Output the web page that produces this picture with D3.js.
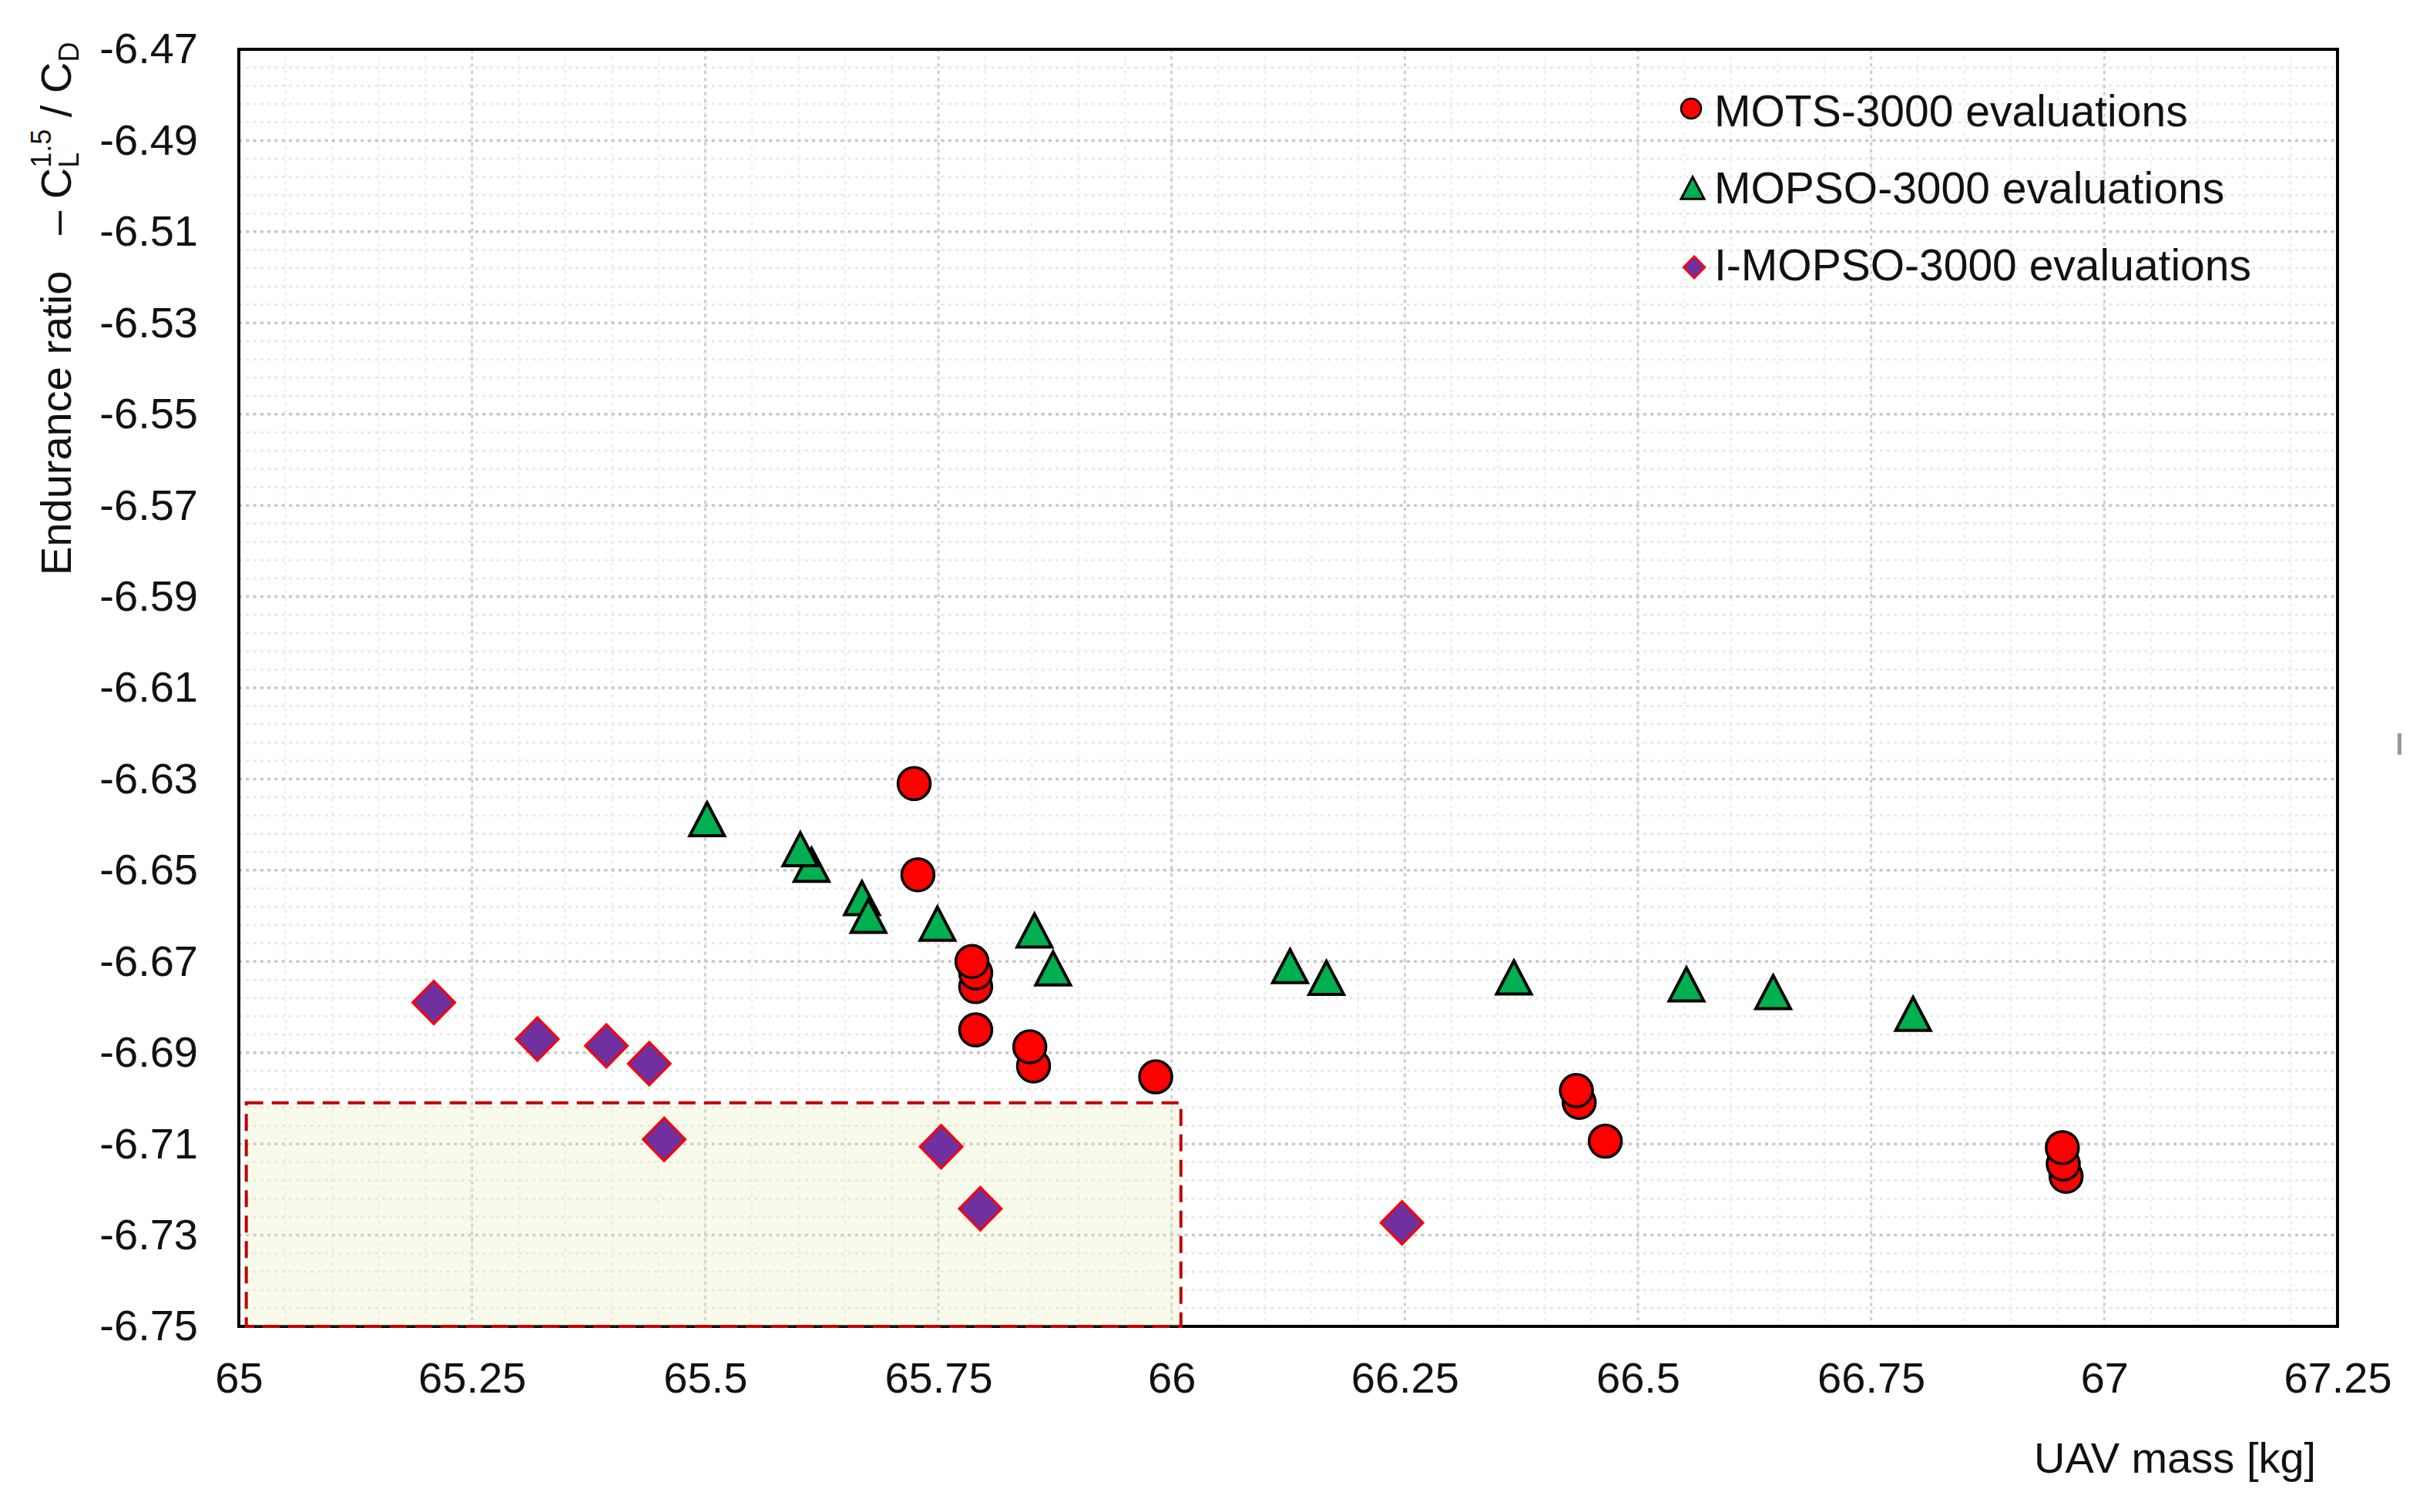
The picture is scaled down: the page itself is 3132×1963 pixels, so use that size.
<!DOCTYPE html>
<html>
<head>
<meta charset="utf-8">
<script src="https://cdn.jsdelivr.net/npm/d3@7"></script>
<style>
  body { margin: 0; background: #fff; }
  svg text { font-family: "Liberation Sans", Arial, sans-serif; fill: #111; }
</style>
</head>
<body>
<div id="scatter"></div>
<script>
// Data
// ==============================
// MOTS (circles) - listed so that overlapping points stack like the original
var motsMass      = [65.724, 65.728, 65.790, 65.790, 65.786, 65.790, 65.852, 65.848, 65.983, 66.437, 66.434, 66.465, 66.959, 66.956, 66.955];
var motsEndurance = [-6.631, -6.651, -6.6755, -6.6725, -6.670, -6.685, -6.6929, -6.6887, -6.6953, -6.7009, -6.6983, -6.7094, -6.7171, -6.7144, -6.7108];

// MOPSO (triangles)
var mopsoMass      = [65.502, 65.614, 65.602, 65.668, 65.675, 65.749, 65.853, 65.873, 66.127, 66.166, 66.367, 66.552, 66.645, 66.795];
var mopsoEndurance = [-6.6388, -6.6488, -6.6454, -6.6561, -6.660, -6.6617, -6.6632, -6.6715, -6.671, -6.6736, -6.6735, -6.675, -6.6767, -6.6815];

// I-MOPSO (diamonds)
var imopsoMass      = [65.209, 65.320, 65.394, 65.440, 65.456, 65.753, 65.795, 66.247];
var imopsoEndurance = [-6.679, -6.687, -6.6885, -6.6924, -6.709, -6.7106, -6.7242, -6.7273];

var seriesNames = ["MOTS-3000 evaluations", "MOPSO-3000 evaluations", "I-MOPSO-3000 evaluations"];

var xTickValues = [65, 65.25, 65.5, 65.75, 66, 66.25, 66.5, 66.75, 67, 67.25];
var xTickLabels = ["65", "65.25", "65.5", "65.75", "66", "66.25", "66.5", "66.75", "67", "67.25"];
var yTickValues = [-6.47, -6.49, -6.51, -6.53, -6.55, -6.57, -6.59, -6.61, -6.63, -6.65, -6.67, -6.69, -6.71, -6.73, -6.75];
var yTickLabels = ["-6.47", "-6.49", "-6.51", "-6.53", "-6.55", "-6.57", "-6.59", "-6.61", "-6.63", "-6.65", "-6.67", "-6.69", "-6.71", "-6.73", "-6.75"];

// highlighted region (dashed box)
var regionMass = [65.008, 66.01];
var regionEndurance = [-6.701, -6.75];

// SVG size matches the reference picture
var svgWidth = 3132;
var svgHeight = 1963;

var margin = {
  top: 64,
  right: 98,
  bottom: 241,
  left: 310
};

var width = svgWidth - margin.left - margin.right;
var height = svgHeight - margin.top - margin.bottom;

var svg = d3.select("#scatter")
  .append("svg")
  .attr("width", svgWidth)
  .attr("height", svgHeight);

svg.append("rect")
  .attr("width", svgWidth)
  .attr("height", svgHeight)
  .attr("fill", "#fff");

var chartGroup = svg.append("g")
  .attr("transform", `translate(${margin.left}, ${margin.top})`);

// Scales
var xScale = d3.scaleLinear().domain([65, 67.25]).range([0, width]);
var yScale = d3.scaleLinear().domain([-6.75, -6.47]).range([height, 0]);

// Gridlines (minor first, then major)
var xMinor = d3.range(0, 46).map(i => 65 + i * 0.05);
var yMinor = d3.range(0, 71).map(i => -6.75 + i * 0.004);

chartGroup.append("g")
  .attr("class", "grid")
  .selectAll("line")
  .data(xMinor)
  .enter()
  .append("line")
  .attr("x1", d => xScale(d)).attr("x2", d => xScale(d))
  .attr("y1", 0).attr("y2", height)
  .attr("stroke", "#efefef")
  .attr("stroke-width", 2.5)
  .attr("stroke-dasharray", "4,5");

chartGroup.append("g")
  .attr("class", "grid")
  .selectAll("line")
  .data(yMinor)
  .enter()
  .append("line")
  .attr("x1", 0).attr("x2", width)
  .attr("y1", d => yScale(d)).attr("y2", d => yScale(d))
  .attr("stroke", "#e9e9e9")
  .attr("stroke-width", 3)
  .attr("stroke-dasharray", "4,5.3");

chartGroup.append("g")
  .selectAll("line")
  .data(xTickValues)
  .enter()
  .append("line")
  .attr("x1", d => xScale(d)).attr("x2", d => xScale(d))
  .attr("y1", 0).attr("y2", height)
  .attr("stroke", "#cdcdcd")
  .attr("stroke-width", 3)
  .attr("stroke-dasharray", "4,5.3");

chartGroup.append("g")
  .selectAll("line")
  .data(yTickValues)
  .enter()
  .append("line")
  .attr("x1", 0).attr("x2", width)
  .attr("y1", d => yScale(d)).attr("y2", d => yScale(d))
  .attr("stroke", "#c8c8c8")
  .attr("stroke-width", 3.5)
  .attr("stroke-dasharray", "4,5.3");

// Plot border
chartGroup.append("rect")
  .attr("width", width)
  .attr("height", height)
  .attr("fill", "none")
  .attr("stroke", "#000")
  .attr("stroke-width", 4);

// Highlighted region
chartGroup.append("rect")
  .attr("x", xScale(regionMass[0]))
  .attr("y", yScale(regionEndurance[0]))
  .attr("width", xScale(regionMass[1]) - xScale(regionMass[0]))
  .attr("height", yScale(regionEndurance[1]) - yScale(regionEndurance[0]))
  .attr("fill", "#e3f0b0")
  .attr("fill-opacity", 0.25)
  .attr("stroke", "#c00000")
  .attr("stroke-width", 4)
  .attr("stroke-dasharray", "22,11");

// Axes
var bottomAxis = d3.axisBottom(xScale)
  .tickValues(xTickValues)
  .tickFormat((d, i) => xTickLabels[i])
  .tickSize(0)
  .tickPadding(46);

var leftAxis = d3.axisLeft(yScale)
  .tickValues(yTickValues)
  .tickFormat((d, i) => yTickLabels[i])
  .tickSize(0)
  .tickPadding(53);

var xAxisGroup = chartGroup.append("g")
  .attr("transform", `translate(0, ${height})`)
  .call(bottomAxis);

var yAxisGroup = chartGroup.append("g")
  .call(leftAxis);

[xAxisGroup, yAxisGroup].forEach(function(g) {
  g.select(".domain").remove();
  g.selectAll("text")
    .attr("font-family", "Liberation Sans, Arial, sans-serif")
    .attr("font-size", 56)
    .attr("fill", "#111");
});

// Marker shapes
var triangleShape = {
  draw: function(context, size) {
    var w = size, h = size * 0.955;
    context.moveTo(0, -h / 2);
    context.lineTo(w / 2, h / 2);
    context.lineTo(-w / 2, h / 2);
    context.closePath();
  }
};

var diamondShape = {
  draw: function(context, size) {
    var w = size / 2, h = size * 1.02 / 2;
    context.moveTo(0, -h);
    context.lineTo(w, 0);
    context.lineTo(0, h);
    context.lineTo(-w, 0);
    context.closePath();
  }
};

var circleStyle = {fill: "#ff0000", stroke: "#000", width: 3.5};
var triangleStyle = {fill: "#00b050", stroke: "#000", width: 4};
var diamondStyle = {fill: "#7030a0", stroke: "#ff0000", width: 3};

// MOTS circles
chartGroup.append("g")
  .selectAll("circle")
  .data(motsMass)
  .enter()
  .append("circle")
  .attr("cx", d => xScale(d))
  .attr("cy", (d, i) => yScale(motsEndurance[i]))
  .attr("r", 21)
  .attr("fill", circleStyle.fill)
  .attr("stroke", circleStyle.stroke)
  .attr("stroke-width", circleStyle.width);

// MOPSO triangles
chartGroup.append("g")
  .selectAll("path")
  .data(mopsoMass)
  .enter()
  .append("path")
  .attr("transform", (d, i) => `translate(${xScale(d)}, ${yScale(mopsoEndurance[i])})`)
  .attr("d", d3.symbol().type(triangleShape).size(45))
  .attr("fill", triangleStyle.fill)
  .attr("stroke", triangleStyle.stroke)
  .attr("stroke-width", triangleStyle.width);

// I-MOPSO diamonds
chartGroup.append("g")
  .selectAll("path")
  .data(imopsoMass)
  .enter()
  .append("path")
  .attr("transform", (d, i) => `translate(${xScale(d)}, ${yScale(imopsoEndurance[i])})`)
  .attr("d", d3.symbol().type(diamondShape).size(55))
  .attr("fill", diamondStyle.fill)
  .attr("stroke", diamondStyle.stroke)
  .attr("stroke-width", diamondStyle.width);

// Legend
var legend = svg.append("g")
  .attr("transform", "translate(2195, 164)");

var legendRows = legend.selectAll("g")
  .data(seriesNames)
  .enter()
  .append("g")
  .attr("transform", (d, i) => `translate(0, ${i * 100})`);

legendRows.append("text")
  .attr("x", 30)
  .attr("y", 0)
  .attr("font-size", 57)
  .text(d => d);

legendRows.filter((d, i) => i === 0)
  .append("circle")
  .attr("cy", -23)
  .attr("r", 13)
  .attr("fill", circleStyle.fill)
  .attr("stroke", circleStyle.stroke)
  .attr("stroke-width", 2.5);

legendRows.filter((d, i) => i === 1)
  .append("path")
  .attr("transform", "translate(2, -20)")
  .attr("d", d3.symbol().type(triangleShape).size(30))
  .attr("fill", triangleStyle.fill)
  .attr("stroke", triangleStyle.stroke)
  .attr("stroke-width", 3);

legendRows.filter((d, i) => i === 2)
  .append("path")
  .attr("transform", "translate(4, -17)")
  .attr("d", d3.symbol().type(diamondShape).size(28))
  .attr("fill", diamondStyle.fill)
  .attr("stroke", diamondStyle.stroke)
  .attr("stroke-width", 2.5);

// Axis labels
svg.append("text")
  .attr("x", 2640)
  .attr("y", 1912)
  .attr("font-size", 56)
  .attr("fill", "#222")
  .text("UAV mass [kg]");

var yLabel = svg.append("text")
  .attr("transform", "translate(92, 747) rotate(-90)")
  .attr("font-size", 56)
  .attr("fill", "#222")
  .style("white-space", "pre");

yLabel.append("tspan").text("Endurance ratio   \u2013 C");
yLabel.append("tspan").attr("font-size", 36).attr("dy", 10).text("L");
yLabel.append("tspan").attr("font-size", 36).attr("dx", -20).attr("dy", -36).text("1.5");
yLabel.append("tspan").attr("dy", 26).text(" / C");
yLabel.append("tspan").attr("font-size", 36).attr("dy", 10).text("D");

// small mark at the right edge of the original figure
svg.append("rect")
  .attr("x", 3112)
  .attr("y", 952)
  .attr("width", 5)
  .attr("height", 28)
  .attr("fill", "#9a9a9a");
</script>
</body>
</html>
